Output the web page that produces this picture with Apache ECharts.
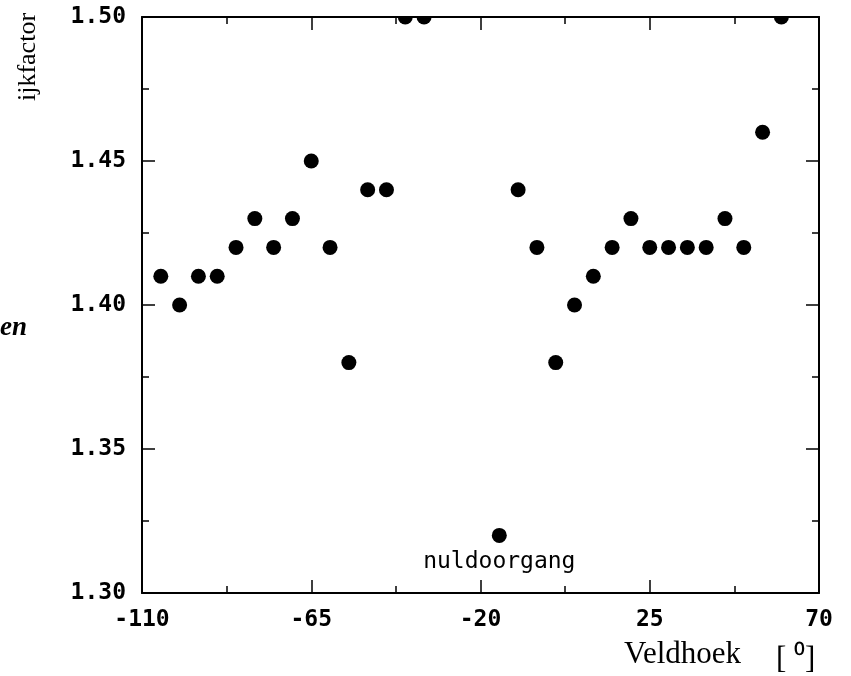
<!DOCTYPE html>
<html>
<head>
<meta charset="utf-8">
<script src="https://cdn.jsdelivr.net/npm/echarts@6/dist/echarts.min.js"></script>
<style>
html,body{margin:0;padding:0;background:#fff;}
#chart{width:851px;height:676px;}
</style>
</head>
<body>
<div id="chart"></div>
<script>
// Data
var xValues = [-105,-100,-95,-90,-85,-80,-75,-70,-65,-60,-55,-50,-45,-40,-35,-15,-10,-5,0,5,10,15,20,25,30,35,40,45,50,55,60];
var yValues = [1.41,1.40,1.41,1.41,1.42,1.43,1.42,1.43,1.45,1.42,1.38,1.44,1.44,1.50,1.50,1.32,1.44,1.42,1.38,1.40,1.41,1.42,1.43,1.42,1.42,1.42,1.42,1.43,1.42,1.46,1.50];
var annotatedX = -15;
var annotationText = 'nuldoorgang';
var xMin = -110, xMax = 70, xStep = 45;
var yMin = 1.30, yMax = 1.50, yStep = 0.05;

var data = xValues.map(function (x, i) {
  var item = { value: [x, yValues[i]] };
  if (x === annotatedX) {
    item.label = {
      show: true, position: 'bottom', distance: 8,
      formatter: annotationText,
      fontFamily: 'DejaVu Sans Mono', fontWeight: 'normal', fontSize: 23, color: '#000'
    };
  }
  return item;
});

var chart = echarts.init(document.getElementById('chart'), null, { renderer: 'canvas' });
var axisFont = { fontFamily: 'DejaVu Sans Mono', fontWeight: 'bold', fontSize: 23, color: '#000' };
var lineStyle = { color: '#000', width: 2 };
var tickStyle = { color: '#000', width: 1.5 };
var L = 142, T = 17, R = 32, B = 83;

function axisCommon(extra) {
  return Object.assign({
    axisLine: { show: true, onZero: false, lineStyle: lineStyle },
    axisTick: { show: true, inside: true, length: 13, lineStyle: tickStyle },
    minorTick: { show: true, splitNumber: 2, length: 7, lineStyle: tickStyle },
    splitLine: { show: false },
    z: 10
  }, extra);
}

chart.setOption({
  backgroundColor: '#fff',
  animation: false,
  grid: { left: L, top: T, right: R, bottom: B, show: false },
  xAxis: [
    axisCommon({ type: 'value', position: 'bottom', min: xMin, max: xMax, interval: xStep,
      axisLabel: Object.assign({ margin: 16 }, axisFont) }),
    axisCommon({ type: 'value', position: 'top', min: xMin, max: xMax, interval: xStep,
      axisLabel: { show: false } })
  ],
  yAxis: [
    axisCommon({ type: 'value', position: 'left', min: yMin, max: yMax, interval: yStep,
      axisLabel: Object.assign({ margin: 16, formatter: function (v) { return v.toFixed(2); } }, axisFont) }),
    axisCommon({ type: 'value', position: 'right', min: yMin, max: yMax, interval: yStep,
      axisLabel: { show: false } })
  ],
  series: [{
    type: 'scatter',
    xAxisIndex: 0, yAxisIndex: 0,
    symbol: 'circle', symbolSize: 15,
    itemStyle: { color: '#000', opacity: 1 },
    clip: false,
    z: 2,
    data: data
  }],
  graphic: [
    // white mask above plot so dots at the top edge appear clipped by the frame
    { type: 'rect', z: 5, silent: true, shape: { x: L - 1, y: 0, width: 851 - L - R + 2, height: T }, style: { fill: '#fff' } },
    { type: 'text', z: 20, x: 28, y: 57, rotation: Math.PI / 2,
      style: { text: 'ijkfactor', font: '26px "Liberation Serif"', fill: '#000', align: 'center', verticalAlign: 'middle' } },
    { type: 'text', z: 20, x: 0, y: 328,
      style: { text: 'en', font: 'italic bold 27px "Liberation Serif"', fill: '#000', align: 'left', verticalAlign: 'middle' } },
    { type: 'text', z: 20, x: 624, y: 655,
      style: { text: 'Veldhoek', font: '31px "Liberation Serif"', fill: '#000', align: 'left', verticalAlign: 'middle' } },
    { type: 'text', z: 20, x: 776, y: 660,
      style: { text: '[ \u2070]', font: '31px "Liberation Serif"', fill: '#000', align: 'left', verticalAlign: 'middle' } }
  ]
});
</script>
</body>
</html>
